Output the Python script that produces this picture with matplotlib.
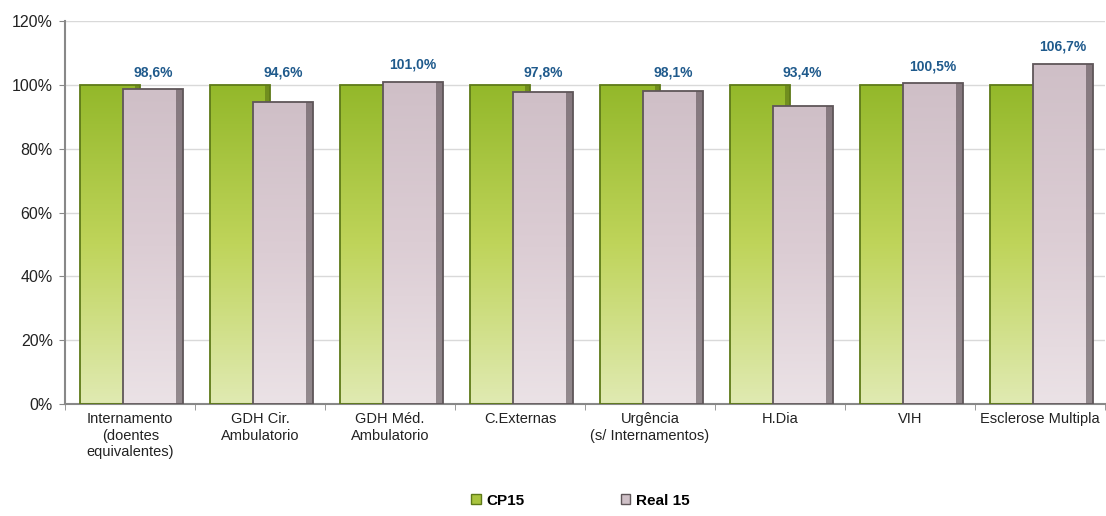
import matplotlib
matplotlib.use("Agg")
import matplotlib.pyplot as plt
import numpy as np
from matplotlib.colors import LinearSegmentedColormap
from matplotlib.ticker import FuncFormatter

plt.rcParams['font.family'] = ['Liberation Sans', 'DejaVu Sans']

categories = ["Internamento\n(doentes\nequivalentes)", "GDH Cir.\nAmbulatorio",
              "GDH Méd.\nAmbulatorio", "C.Externas", "Urgência\n(s/ Internamentos)",
              "H.Dia", "VIH", "Esclerose Multipla"]
cp15 = [100.0, 100.0, 100.0, 100.0, 100.0, 100.0, 100.0, 100.0]
real15 = [98.6, 94.6, 101.0, 97.8, 98.1, 93.4, 100.5, 106.7]
yticks = [0, 20, 40, 60, 80, 100, 120]

green_cmap = LinearSegmentedColormap.from_list("g", ["#e0eab2", "#bfd45a", "#93b82a"])
pink_cmap = LinearSegmentedColormap.from_list("p", ["#ebe2e6", "#dccdd4", "#cfbfc7"])

fig = plt.figure(figsize=(11.06, 5.16), dpi=100)
ax = fig.add_axes([0.059, 0.217, 0.940, 0.742])

x = np.arange(len(categories))
width = 0.46
grad = np.linspace(0, 1, 256).reshape(-1, 1)


def gradient_bars(xpos, vals, cmap, edge, z):
    bars = ax.bar(xpos, vals, width, facecolor='none', edgecolor=edge,
                  linewidth=1.3, zorder=z + 2)
    for b in bars:
        bx, by = b.get_x(), b.get_y()
        im = ax.imshow(grad, cmap=cmap, origin='lower', aspect='auto',
                       extent=[bx, bx + b.get_width(), by, by + b.get_height()],
                       zorder=z)
        im.set_clip_path(b)
    return bars


gradient_bars(x - 0.155, cp15, green_cmap, "#5e7a18", 2)
# dark shading on the right side of the green bars
ax.bar(x - 0.155 + width / 2 - 0.02, cp15, 0.04, color='#4d6412', alpha=0.5,
       linewidth=0, zorder=3)
gradient_bars(x + 0.175, real15, pink_cmap, "#5f5659", 5)
# dark shading on the right side of the pink bars
ax.bar(x + 0.175 + width / 2 - 0.025, real15, 0.05, color='#4a4145', alpha=0.55,
       linewidth=0, zorder=6)

for xi, v in zip(x, real15):
    ax.text(xi + 0.175, max(v, 98.6) + 5.3, f"{v:.1f}%".replace(".", ","),
            ha='center', va='center', fontsize=10, fontweight='bold',
            color='#1f5a8c', zorder=8)

ax.set_xlim(-0.5, len(categories) - 0.5)
ax.set_ylim(0, 120)
ax.set_yticks(yticks)
ax.yaxis.set_major_formatter(FuncFormatter(lambda v, p: f"{v:.0f}%"))
ax.tick_params(axis='y', labelsize=11.5, length=4, color='#888888', pad=5,
               labelcolor='#222222')
ax.set_xticks(x)
ax.set_xticklabels(categories, fontsize=10.5, color='#222222')
ax.tick_params(axis='x', length=0, pad=6)
ax.set_xticks(np.arange(len(categories) + 1) - 0.5, minor=True)
ax.tick_params(axis='x', which='minor', length=4, color='#888888')

ax.grid(axis='y', color='#d9d9d9', linewidth=1, zorder=0)
ax.set_axisbelow(True)
for s in ['top', 'right']:
    ax.spines[s].set_visible(False)
ax.spines['left'].set_color('#888888')
ax.spines['bottom'].set_color('#888888')
ax.spines['left'].set_linewidth(1.5)
ax.spines['bottom'].set_linewidth(1.5)

handles = [plt.Rectangle((0, 0), 1, 1, facecolor="#a9c43e", edgecolor="#5e7a18"),
           plt.Rectangle((0, 0), 1, 1, facecolor="#cfc0c7", edgecolor="#5f5659")]
fig.legend(handles, ["CP15", "Real 15"], loc='center', bbox_to_anchor=(0.525, 0.03),
           ncol=2, frameon=False, prop={'size': 11, 'weight': 'bold'},
           handlelength=0.6, handleheight=0.6, handletextpad=0.4, columnspacing=6.3)

fig.savefig("out.png", dpi=100)
